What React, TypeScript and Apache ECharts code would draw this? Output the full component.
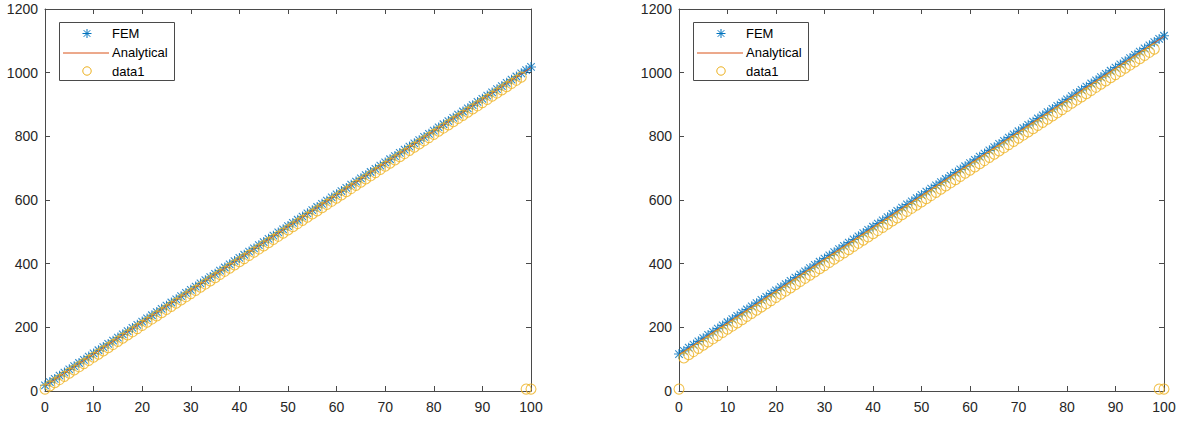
import React, { useEffect, useRef } from "react";
import * as echarts from "echarts";

// Sample positions are the point indices 0..100 (x = index).
const femLeft = [
  18, 28, 38, 48, 58, 68, 78, 88, 98, 108,
  118, 128, 138, 148, 158, 168, 178, 188, 198, 208,
  218, 228, 238, 248, 258, 268, 278, 288, 298, 308,
  318, 328, 338, 348, 358, 368, 378, 388, 398, 408,
  418, 428, 438, 448, 458, 468, 478, 488, 498, 508,
  518, 528, 538, 548, 558, 568, 578, 588, 598, 608,
  618, 628, 638, 648, 658, 668, 678, 688, 698, 708,
  718, 728, 738, 748, 758, 768, 778, 788, 798, 808,
  818, 828, 838, 848, 858, 868, 878, 888, 898, 908,
  918, 928, 938, 948, 958, 968, 978, 988, 998, 1008,
  1018,
];
const data1Left = [
  6, 16, 26, 36, 46, 56, 66, 76, 86, 96,
  106, 116, 126, 136, 146, 156, 166, 176, 186, 196,
  206, 216, 226, 236, 246, 256, 266, 276, 286, 296,
  306, 316, 326, 336, 346, 356, 366, 376, 386, 396,
  406, 416, 426, 436, 446, 456, 466, 476, 486, 496,
  506, 516, 526, 536, 546, 556, 566, 576, 586, 596,
  606, 616, 626, 636, 646, 656, 666, 676, 686, 696,
  706, 716, 726, 736, 746, 756, 766, 776, 786, 796,
  806, 816, 826, 836, 846, 856, 866, 876, 886, 896,
  906, 916, 926, 936, 946, 956, 966, 976, 986, 6,
  6,
];
const femRight = [
  116, 126, 136, 146, 156, 166, 176, 186, 196, 206,
  216, 226, 236, 246, 256, 266, 276, 286, 296, 306,
  316, 326, 336, 346, 356, 366, 376, 386, 396, 406,
  416, 426, 436, 446, 456, 466, 476, 486, 496, 506,
  516, 526, 536, 546, 556, 566, 576, 586, 596, 606,
  616, 626, 636, 646, 656, 666, 676, 686, 696, 706,
  716, 726, 736, 746, 756, 766, 776, 786, 796, 806,
  816, 826, 836, 846, 856, 866, 876, 886, 896, 906,
  916, 926, 936, 946, 956, 966, 976, 986, 996, 1006,
  1016, 1026, 1036, 1046, 1056, 1066, 1076, 1086, 1096, 1106,
  1116,
];
const data1Right = [
  6, 104, 114, 124, 134, 144, 154, 164, 174, 184,
  194, 204, 214, 224, 234, 244, 254, 264, 274, 284,
  294, 304, 314, 324, 334, 344, 354, 364, 374, 384,
  394, 404, 414, 424, 434, 444, 454, 464, 474, 484,
  494, 504, 514, 524, 534, 544, 554, 564, 574, 584,
  594, 604, 614, 624, 634, 644, 654, 664, 674, 684,
  694, 704, 714, 724, 734, 744, 754, 764, 774, 784,
  794, 804, 814, 824, 834, 844, 854, 864, 874, 884,
  894, 904, 914, 924, 934, 944, 954, 964, 974, 984,
  994, 1004, 1014, 1024, 1034, 1044, 1054, 1064, 1074, 6,
  6,
];
const analyticalX = [0, 10, 20, 30, 40, 50, 60, 70, 80, 90, 100];
const analyticalLeft = [16, 116, 216, 316, 416, 516, 616, 716, 816, 916, 1016];
const analyticalRight = [114, 214, 314, 414, 514, 614, 714, 814, 914, 1014, 1114];
const legendNames = ["FEM", "Analytical", "data1"];

const BLUE = "#0072BD";
const ORANGE = "#D95319";
const YELLOW = "#EDB120";
const AXIS = "#4a4a4a";
const TEXT = "#262626";
const FONT = '"Liberation Sans", Arial, Helvetica, sans-serif';
const STAR = "path://M0,-10L0,10M-10,0L10,0M-7.5,-7.5L7.5,7.5M-7.5,7.5L7.5,-7.5";

const pairs = (ys: number[]) => ys.map((v, i) => [i, v]);
const pairsX = (xs: number[], ys: number[]) => ys.map((v, i) => [xs[i], v]);

function makeXAxis(grid: number, top: boolean) {
  return {
    type: "value",
    gridIndex: grid,
    position: top ? "top" : "bottom",
    min: 0,
    max: 100,
    interval: 10,
    axisLine: { show: true, onZero: false, lineStyle: { color: AXIS, width: 1 } },
    axisTick: { show: true, inside: true, length: 5, lineStyle: { color: AXIS } },
    axisLabel: {
      show: !top,
      margin: 9,
      color: TEXT,
      fontSize: 14,
      fontFamily: FONT,
      formatter: (v: number) => String(v),
    },
    splitLine: { show: false },
  };
}
function makeYAxis(grid: number, right: boolean) {
  return {
    type: "value",
    gridIndex: grid,
    position: right ? "right" : "left",
    min: 0,
    max: 1200,
    interval: 200,
    axisLine: { show: true, onZero: false, lineStyle: { color: AXIS, width: 1 } },
    axisTick: { show: true, inside: true, length: 5, lineStyle: { color: AXIS } },
    axisLabel: {
      show: !right,
      margin: 7,
      color: TEXT,
      fontSize: 14,
      fontFamily: FONT,
      formatter: (v: number) => String(v),
    },
    splitLine: { show: false },
  };
}

function legendGraphic(x0: number) {
  const y0 = 22.5;
  const rows = [33.5, 52.5, 71];
  const sx = x0 + 28;
  const r = 4.5;
  const d = 3.3;
  const els: any[] = [
    {
      type: "rect",
      z: 20,
      shape: { x: x0 + 0.5, y: y0, width: 115, height: 58 },
      style: { fill: "#fff", stroke: AXIS, lineWidth: 1 },
    },
    { type: "line", z: 21, shape: { x1: sx - r, y1: rows[0], x2: sx + r, y2: rows[0] }, style: { stroke: BLUE, lineWidth: 1 } },
    { type: "line", z: 21, shape: { x1: sx, y1: rows[0] - r, x2: sx, y2: rows[0] + r }, style: { stroke: BLUE, lineWidth: 1 } },
    { type: "line", z: 21, shape: { x1: sx - d, y1: rows[0] - d, x2: sx + d, y2: rows[0] + d }, style: { stroke: BLUE, lineWidth: 1 } },
    { type: "line", z: 21, shape: { x1: sx - d, y1: rows[0] + d, x2: sx + d, y2: rows[0] - d }, style: { stroke: BLUE, lineWidth: 1 } },
    { type: "line", z: 21, shape: { x1: x0 + 4, y1: rows[1] + 0.5, x2: x0 + 50, y2: rows[1] + 0.5 }, style: { stroke: ORANGE, lineWidth: 1 } },
    { type: "circle", z: 21, shape: { cx: sx, cy: rows[2], r: 4.2 }, style: { fill: "none", stroke: YELLOW, lineWidth: 1 } },
  ];
  legendNames.forEach((name, i) => {
    els.push({
      type: "text",
      z: 21,
      x: x0 + 53,
      y: rows[i],
      style: {
        text: name,
        fill: "#000",
        font: `13px ${FONT}`,
        verticalAlign: "middle",
        textVerticalAlign: "middle",
        align: "left",
      },
    });
  });
  return els;
}

export default function App() {
  const ref = useRef<HTMLDivElement>(null);
  useEffect(() => {
    document.body.style.margin = "0";
    const chart = echarts.init(ref.current!, null, { renderer: "svg" });
    const series: any[] = [];
    const sets = [
      { fem: femLeft, an: analyticalLeft, d1: data1Left },
      { fem: femRight, an: analyticalRight, d1: data1Right },
    ];
    sets.forEach((s, g) => {
      series.push({
        name: legendNames[0],
        type: "scatter",
        xAxisIndex: g * 2,
        yAxisIndex: g * 2,
        data: pairs(s.fem),
        symbol: STAR,
        symbolSize: 10,
        clip: false,
        itemStyle: { color: BLUE, borderColor: BLUE, borderWidth: 1.1 },
        z: 2,
      });
      series.push({
        name: legendNames[1],
        type: "line",
        xAxisIndex: g * 2,
        yAxisIndex: g * 2,
        data: pairsX(analyticalX, s.an),
        symbol: "none",
        lineStyle: { color: ORANGE, width: 1 },
        z: 3,
      });
      series.push({
        name: legendNames[2],
        type: "scatter",
        xAxisIndex: g * 2,
        yAxisIndex: g * 2,
        data: pairs(s.d1),
        symbol: "circle",
        symbolSize: 10,
        clip: false,
        itemStyle: { color: "rgba(0,0,0,0)", borderColor: YELLOW, borderWidth: 1.1 },
        z: 4,
      });
    });
    chart.setOption({
      animation: false,
      backgroundColor: "#fff",
      grid: [
        { left: 45, top: 9, width: 486, height: 382, containLabel: false },
        { left: 679, top: 9, width: 485, height: 382, containLabel: false },
      ],
      xAxis: [makeXAxis(0, false), makeXAxis(0, true), makeXAxis(1, false), makeXAxis(1, true)],
      yAxis: [makeYAxis(0, false), makeYAxis(0, true), makeYAxis(1, false), makeYAxis(1, true)],
      series,
      graphic: [...legendGraphic(59), ...legendGraphic(693)],
    });
    return () => chart.dispose();
  }, []);
  return (
    <div
      ref={ref}
      style={{ position: "absolute", left: 0, top: 0, width: 1181, height: 424 }}
    />
  );
}
